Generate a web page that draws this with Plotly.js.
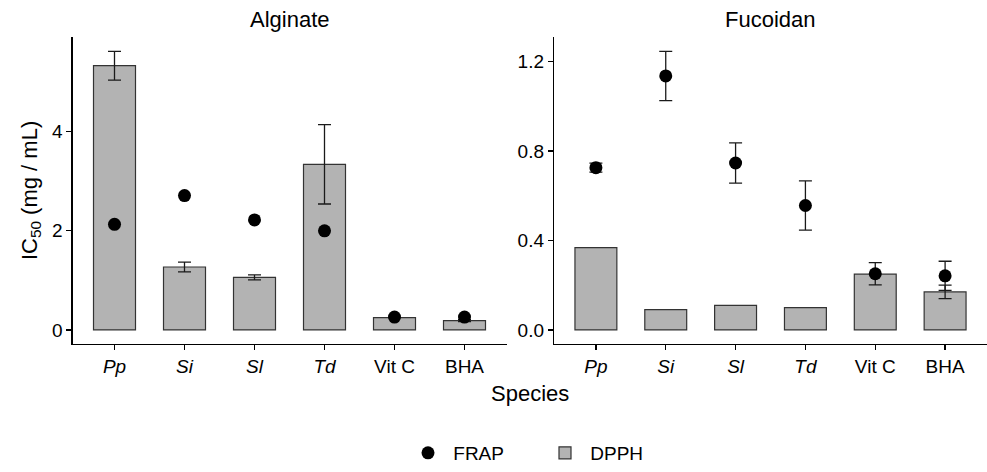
<!DOCTYPE html>
<html>
<head>
<meta charset="utf-8">
<script src="https://cdn.plot.ly/plotly-3.0.1.min.js"></script>
<style>html,body{margin:0;padding:0;background:#fff;overflow:hidden;}#chart{width:987px;height:472px;}</style>
</head>
<body>
<div id="chart"></div>
<script>
// ---- data ----
const categories = ["Pp", "Si", "Sl", "Td", "Vit C", "BHA"];
const speciesNames = ["Pp", "Si", "Sl", "Td"];
const panels = ["Alginate", "Fucoidan"];
const seriesNames = ["FRAP", "DPPH"];

// NaN = no error bar drawn
const alginateDPPH = [5.33, 1.27, 1.06, 3.34, 0.25, 0.19];
const alginateDPPHErr = [0.29, 0.10, 0.05, 0.80, NaN, 0.02];
const alginateFRAP = [2.13, 2.71, 2.22, 2.00, 0.26, 0.26];

const fucoidanDPPH = [0.368, 0.091, 0.110, 0.100, 0.249, 0.170];
const fucoidanDPPHErr = [NaN, NaN, NaN, NaN, NaN, 0.03];
const fucoidanFRAP = [0.725, 1.135, 0.746, 0.556, 0.251, 0.242];
const fucoidanFRAPErr = [0.02, 0.11, 0.09, 0.11, 0.05, 0.065];

const yTicksAlginate = [0, 2, 4];
const yTicksFucoidan = [0, 0.4, 0.8, 1.2];

// ---- build ----
const W = 987, H = 472;
const tickText = categories.map(c => speciesNames.includes(c) ? "<i>" + c + "</i>" : c);
const FONT = "Liberation Sans, Arial, sans-serif";
const barFill = "#b3b3b3";
const barLine = "#333333";
const NB = "\u00A0";

function errSpec(arr) {
  return {type: "data", array: arr, visible: true, color: "#1a1a1a", thickness: 1.3, width: 6.5};
}
function barTrace(y, err, xa, ya, show) {
  return {
    type: "bar", x: categories, y: y, xaxis: xa, yaxis: ya,
    name: NB + seriesNames[1], legendgroup: "DPPH", showlegend: show, legendrank: 2,
    width: 0.6,
    marker: {color: barFill, line: {color: barLine, width: 1.2}},
    error_y: errSpec(err)
  };
}
function frapTrace(y, err, xa, ya, show) {
  const t = {
    type: "scatter", mode: "markers", x: categories, y: y, xaxis: xa, yaxis: ya,
    name: NB + seriesNames[0], legendgroup: "FRAP", showlegend: show, legendrank: 1,
    marker: {color: "#000000", size: 13, symbol: "circle"}
  };
  if (err) t.error_y = errSpec(err);
  return t;
}

const data = [
  barTrace(alginateDPPH, alginateDPPHErr, "x", "y", true),
  frapTrace(alginateFRAP, null, "x", "y", true),
  barTrace(fucoidanDPPH, fucoidanDPPHErr, "x2", "y2", false),
  frapTrace(fucoidanFRAP, fucoidanFRAPErr, "x2", "y2", false)
];

const axisCommon = {
  showline: true, linecolor: "#000", linewidth: 1.2,
  ticks: "outside", ticklen: 5, tickcolor: "#000", tickwidth: 1.2,
  showgrid: false, zeroline: false,
  tickfont: {family: FONT, size: 19, color: "#000"}
};
const yBottom = (H - 349) / H, yTop = (H - 38) / H;

const layout = {
  width: W, height: H,
  margin: {l: 0, r: 0, t: 0, b: 0},
  paper_bgcolor: "#fff", plot_bgcolor: "#fff",
  font: {family: FONT, color: "#000"},
  showlegend: true,
  legend: {
    orientation: "h", x: 408 / W, xanchor: "left", y: (H - 460) / H, yanchor: "middle",
    font: {family: FONT, size: 19, color: "#000"},
    entrywidth: 92, entrywidthmode: "pixels", traceorder: "normal"
  },
  xaxis: Object.assign({}, axisCommon, {
    domain: [72.5 / W, 506.5 / W], anchor: "y",
    type: "category", range: [-0.6, 5.6],
    tickmode: "array", tickvals: categories, ticktext: tickText
  }),
  yaxis: Object.assign({}, axisCommon, {
    domain: [yBottom, yTop], anchor: "x",
    range: [-0.28, 5.90], tickmode: "array", tickvals: yTicksAlginate
  }),
  xaxis2: Object.assign({}, axisCommon, {
    domain: [554 / W, 1], anchor: "y2",
    type: "category", range: [-0.6, 5.6],
    tickmode: "array", tickvals: categories, ticktext: tickText
  }),
  yaxis2: Object.assign({}, axisCommon, {
    domain: [yBottom, yTop], anchor: "x2",
    range: [-0.062, 1.307], tickmode: "array", tickvals: yTicksFucoidan, tickformat: ".1f"
  }),
  annotations: [
    {text: panels[0], xref: "x domain", yref: "paper", x: 0.5, y: (H - 20) / H,
     xanchor: "center", yanchor: "middle", showarrow: false, font: {family: FONT, size: 22, color: "#000"}},
    {text: panels[1], xref: "x2 domain", yref: "paper", x: 0.5, y: (H - 20) / H,
     xanchor: "center", yanchor: "middle", showarrow: false, font: {family: FONT, size: 22, color: "#000"}},
    {text: "Species", xref: "paper", yref: "paper", x: 529.7 / W, y: (H - 399) / H,
     xanchor: "center", yanchor: "middle", showarrow: false, font: {family: FONT, size: 22, color: "#000"}},
    {text: "IC<sub>50</sub> (mg / mL)", xref: "paper", yref: "paper", x: 31 / W, y: (H - 194) / H,
     xanchor: "center", yanchor: "middle", textangle: -90, showarrow: false,
     font: {family: FONT, size: 22, color: "#000"}}
  ]
};

Plotly.newPlot("chart", data, layout, {displayModeBar: false, staticPlot: true});
</script>
</body>
</html>
